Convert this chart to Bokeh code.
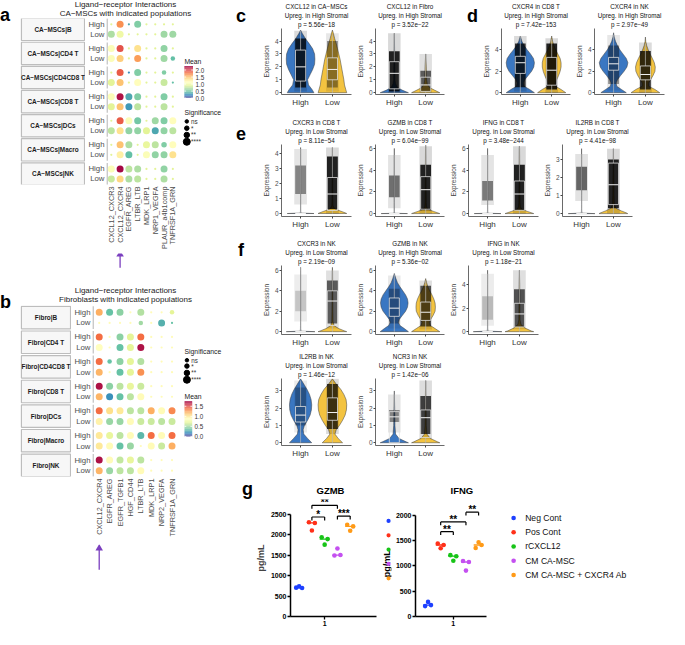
import math
from bokeh.plotting import figure
from bokeh.models import (ColumnDataSource, Range1d, FixedTicker, Div, Spacer, CustomJSTickFormatter, Title)
from bokeh.layouts import row, column
from bokeh.transform import linear_cmap
from bokeh.embed import file_html
from bokeh.resources import INLINE
from bokeh.core.properties import value

FONT = "Liberation Sans"
BLUE = "#3A77C2"
YELLOW = "#F3C340"

# ======================= DATA =======================
stromal = ["High", "Low"]
sig_labels = ["ns", "*", "**", "****"]

# ---- panel a: CA-MSCs ligand-receptor (rows: group x High/Low) ----
a_pairs = ["CXCL12_CXCR3", "CXCL12_CXCR4", "EGFR_AREG", "LTBR_LTB", "MDK_LRP1",
           "NRP1_VEGFA", "PLAUR_a4b1comp", "TNFRSF1A_GRN"]
a_groups = ["CA−MSCs|B", "CA−MSCs|CD4 T", "CA−MSCs|CD4CD8 T", "CA−MSCs|CD8 T",
            "CA−MSCs|DCs", "CA−MSCs|Macro", "CA−MSCs|NK"]
a_mean = [
    [0.9, 1.7, 0.35, 0.55, 0.9, 0.9, 0.9, 0.9],
    [0.7, 1.0, 0.9, 0.9, 0.9, 0.9, 0.65, 0.65],
    [1.1, 1.95, 0.9, 1.35, 0.9, 0.9, 0.6, 0.9],
    [1.1, 1.45, 0.9, 1.65, 0.9, 0.9, 0.65, 0.45],
    [0.9, 1.9, 0.25, 0.55, 0.9, 0.9, 0.55, 0.9],
    [0.9, 1.5, 0.9, 1.15, 0.9, 0.9, 0.8, 0.45],
    [1.1, 2.2, 0.35, 0.55, 0.9, 0.9, 0.55, 0.9],
    [0.9, 1.5, 0.3, 0.75, 0.9, 0.9, 0.75, 0.9],
    [0.9, 1.9, 1.1, 0.5, 0.9, 0.65, 0.55, 1.15],
    [0.75, 1.35, 0.6, 0.6, 0.9, 0.35, 0.6, 0.75],
    [0.9, 1.5, 0.7, 0.9, 0.95, 0.75, 0.55, 1.15],
    [0.9, 1.25, 0.45, 0.9, 1.1, 0.6, 0.6, 1.35],
    [1.1, 2.25, 0.75, 0.7, 0.9, 0.9, 0.6, 0.9],
    [0.8, 1.4, 0.7, 0.75, 0.9, 0.9, 0.7, 0.9],
]
a_sig = [
    [0, 3, 0, 3, 0, 0, 0, 0],
    [3, 3, 0, 0, 0, 0, 3, 3],
    [3, 3, 0, 3, 0, 0, 3, 0],
    [3, 3, 0, 3, 0, 0, 3, 1],
    [0, 3, 0, 3, 0, 0, 1, 0],
    [3, 3, 0, 3, 0, 0, 3, 0],
    [3, 3, 3, 3, 0, 0, 3, 0],
    [3, 3, 3, 3, 0, 0, 3, 0],
    [0, 3, 3, 3, 0, 3, 3, 3],
    [3, 3, 3, 3, 3, 3, 3, 3],
    [0, 3, 3, 0, 3, 3, 2, 3],
    [0, 3, 3, 0, 3, 3, 3, 3],
    [3, 3, 3, 3, 0, 0, 3, 0],
    [3, 3, 3, 3, 0, 0, 3, 0],
]

# ---- panel b: Fibroblasts ligand-receptor ----
b_pairs = ["CXCL12_CXCR4", "EGFR_AREG", "EGFR_TGFB1", "HGF_CD44", "LTBR_LTB",
           "MDK_LRP1", "NRP2_VEGFA", "TNFRSF1A_GRN"]
b_groups = ["Fibro|B", "Fibro|CD4 T", "Fibro|CD4CD8 T", "Fibro|CD8 T",
            "Fibro|DCs", "Fibro|Macro", "Fibro|NK"]
b_mean = [
    [1.22, 0.35, 0.45, 0.9, 0.55, 0.9, 0.9, 0.7],
    [0.9, 0.9, 0.9, 0.9, 0.5, 0.9, 0.3, 0.35],
    [1.4, 0.9, 0.45, 0.7, 1.4, 0.9, 0.9, 0.9],
    [0.88, 0.9, 0.35, 0.7, 1.7, 0.9, 0.9, 0.9],
    [1.4, 0.35, 0.45, 0.7, 0.55, 0.9, 0.9, 0.9],
    [1.2, 0.9, 0.35, 0.7, 1.3, 0.9, 0.9, 0.9],
    [1.7, 0.45, 0.58, 0.72, 0.62, 0.9, 0.9, 0.9],
    [1.2, 0.2, 0.35, 0.58, 0.9, 0.9, 0.9, 0.9],
    [1.4, 1.05, 1.0, 0.58, 0.58, 1.22, 0.9, 1.32],
    [0.95, 0.48, 0.48, 0.9, 0.62, 0.62, 0.58, 0.62],
    [1.0, 0.72, 0.58, 0.9, 0.32, 1.4, 0.9, 1.4],
    [1.0, 0.9, 0.35, 0.48, 0.9, 0.9, 0.62, 1.22],
    [1.7, 0.9, 0.6, 0.72, 0.58, 0.9, 0.9, 0.9],
    [1.2, 0.48, 0.58, 0.58, 0.9, 0.9, 0.9, 0.9],
]
b_sig = [
    [3, 3, 3, 0, 3, 0, 0, 1],
    [0, 0, 0, 0, 1, 0, 3, 0],
    [3, 0, 3, 3, 3, 0, 0, 0],
    [3, 0, 3, 3, 3, 0, 0, 0],
    [3, 1, 3, 3, 3, 0, 0, 0],
    [3, 0, 3, 3, 3, 0, 0, 0],
    [3, 3, 3, 3, 3, 0, 0, 0],
    [3, 3, 3, 3, 3, 0, 0, 0],
    [3, 3, 3, 3, 3, 3, 3, 3],
    [3, 3, 3, 3, 3, 3, 3, 3],
    [3, 3, 3, 3, 3, 3, 3, 3],
    [3, 3, 3, 3, 0, 3, 3, 3],
    [3, 3, 3, 3, 3, 0, 0, 0],
    [3, 3, 3, 3, 3, 0, 0, 0],
]

# ---- violins: levels, half-widths, box [q1, med, q3, max], cloud [lo, core_lo, core_hi, hi, density] ----
c1_levels = [0, 0.25, 0.6, 1.0, 1.4, 1.8, 2.2, 2.6, 3.0, 3.4, 3.8, 4.2, 4.6, 4.85]
c1_high_w = [0.42, 0.36, 0.25, 0.22, 0.30, 0.38, 0.44, 0.45, 0.44, 0.38, 0.27, 0.15, 0.05, 0.0]
c1_low_w = [0.45, 0.42, 0.38, 0.36, 0.33, 0.30, 0.27, 0.24, 0.20, 0.16, 0.12, 0.07, 0.03, 0.0]
c1_high_box = [0.9, 2.0, 3.3, 4.8]
c1_low_box = [1.0, 1.8, 2.7, 4.5]
c1_high_cloud = [0.1, 0.4, 4.2, 4.8, 0.9]
c1_low_cloud = [0.1, 0.4, 4.0, 4.6, 0.45]

c2_levels = [0, 0.2, 0.4, 0.7, 1.0, 2.0, 3.0, 4.0, 4.6]
c2_high_w = [0.45, 0.25, 0.10, 0.04, 0.02, 0.015, 0.01, 0.005, 0.0]
c2_low_w = [0.45, 0.28, 0.12, 0.05, 0.03, 0.02, 0.0, 0.0, 0.0]
c2_high_box = [0.3, 1.5, 2.4, 4.6]
c2_low_box = [0.1, 0.6, 1.2, 3.0]
c2_high_cloud = [0.0, 0.1, 3.2, 4.6, 1.0]
c2_low_cloud = [0.0, 0.1, 1.7, 3.0, 0.7]

d1_levels = [0, 0.3, 0.6, 0.9, 1.2, 1.6, 2.0, 2.4, 2.8, 3.2, 3.6, 4.0, 4.4, 4.8, 5.3]
d1_high_w = [0.45, 0.30, 0.12, 0.10, 0.14, 0.25, 0.36, 0.43, 0.45, 0.42, 0.33, 0.22, 0.12, 0.05, 0.0]
d1_low_w = [0.45, 0.30, 0.12, 0.12, 0.16, 0.22, 0.27, 0.30, 0.30, 0.27, 0.20, 0.13, 0.07, 0.03, 0.0]
d1_high_box = [1.8, 2.8, 3.4, 5.3]
d1_low_box = [0.7, 2.1, 3.3, 5.0]
d1_high_cloud = [0.1, 0.5, 4.6, 5.3, 0.9]
d1_low_cloud = [0.0, 0.3, 4.6, 5.1, 1.0]

d2_levels = [0, 0.3, 0.6, 0.9, 1.2, 1.6, 2.0, 2.4, 2.8, 3.2, 3.6, 4.0, 4.4, 4.8, 5.2, 5.6]
d2_high_w = [0.40, 0.25, 0.10, 0.08, 0.12, 0.22, 0.33, 0.42, 0.45, 0.40, 0.30, 0.20, 0.12, 0.06, 0.02, 0.0]
d2_low_w = [0.45, 0.30, 0.10, 0.10, 0.16, 0.24, 0.30, 0.31, 0.28, 0.22, 0.15, 0.09, 0.04, 0.01, 0.0, 0.0]
d2_high_box = [2.1, 2.7, 3.3, 5.4]
d2_low_box = [1.2, 1.7, 2.5, 4.6]
d2_high_cloud = [0.2, 0.8, 4.4, 5.4, 0.45]
d2_low_cloud = [0.0, 0.3, 3.9, 4.7, 0.9]

e1_levels = [0, 0.03, 0.15, 0.3, 0.5, 1.0, 2.0, 3.0, 4.0, 4.4]
e1_high_w = [0.42, 0.01, 0.004, 0.003, 0.003, 0.002, 0.002, 0.001, 0.001, 0.0]
e1_low_w = [0.45, 0.42, 0.27, 0.08, 0.02, 0.01, 0.01, 0.005, 0.003, 0.0]
e1_high_box = [0, 0, 0, 4.3]
e1_low_box = [0.2, 1.3, 2.4, 4.4]
e1_high_cloud = [0.6, 1.3, 3.2, 4.3, 0.5]
e1_low_cloud = [0.0, 0.3, 3.8, 4.4, 1.0]

e2_levels = [0, 0.03, 0.2, 0.4, 0.6, 1.0, 2.0, 4.0, 6.0, 6.3]
e2_high_w = [0.42, 0.01, 0.004, 0.003, 0.003, 0.002, 0.002, 0.001, 0.0, 0.0]
e2_low_w = [0.45, 0.42, 0.25, 0.08, 0.03, 0.02, 0.015, 0.01, 0.005, 0.0]
e2_high_box = [0, 0, 0, 5.4]
e2_low_box = [0.4, 2.2, 3.4, 6.3]
e2_high_cloud = [0.5, 1.5, 3.5, 5.4, 0.6]
e2_low_cloud = [0.0, 0.3, 4.5, 6.2, 1.0]

e3_levels = [0, 0.03, 0.2, 0.4, 0.6, 1.0, 2.0, 4.0, 6.0, 6.2]
e3_high_w = [0.42, 0.01, 0.004, 0.003, 0.003, 0.002, 0.002, 0.001, 0.0, 0.0]
e3_low_w = [0.45, 0.42, 0.25, 0.08, 0.03, 0.02, 0.015, 0.01, 0.005, 0.0]
e3_high_box = [0, 0, 0, 5.4]
e3_low_box = [0.3, 1.8, 3.0, 6.2]
e3_high_cloud = [0.8, 1.2, 3.0, 5.4, 0.55]
e3_low_cloud = [0.0, 0.3, 4.5, 6.2, 1.0]

e4_levels = [0, 0.03, 0.15, 0.3, 0.5, 1.0, 2.0, 3.0, 3.6]
e4_high_w = [0.42, 0.01, 0.004, 0.003, 0.003, 0.002, 0.002, 0.001, 0.0]
e4_low_w = [0.45, 0.42, 0.25, 0.08, 0.03, 0.02, 0.015, 0.005, 0.0]
e4_high_box = [0, 0, 0, 3.3]
e4_low_box = [0.5, 1.6, 2.8, 3.6]
e4_high_cloud = [0.7, 1.3, 2.6, 3.3, 0.65]
e4_low_cloud = [0.0, 0.3, 3.0, 3.6, 1.0]

f1_levels = [0, 0.05, 0.3, 0.6, 1.0, 2.0, 4.0, 6.0, 6.3]
f1_high_w = [0.45, 0.01, 0.004, 0.003, 0.002, 0.002, 0.001, 0.001, 0.0]
f1_low_w = [0.45, 0.40, 0.20, 0.05, 0.02, 0.015, 0.01, 0.005, 0.0]
f1_high_box = [0, 0, 0, 6.3]
f1_low_box = [0.6, 3.0, 4.0, 6.0]
f1_high_cloud = [1.0, 2.0, 4.0, 5.6, 0.2]
f1_low_cloud = [0.3, 0.8, 5.0, 6.0, 0.7]

f2_levels = [0, 0.3, 0.6, 0.9, 1.2, 1.6, 2.0, 2.4, 2.8, 3.2, 3.6, 4.0, 4.4, 4.8, 5.2, 5.7]
f2_high_w = [0.45, 0.32, 0.18, 0.13, 0.16, 0.26, 0.36, 0.42, 0.44, 0.42, 0.36, 0.27, 0.18, 0.10, 0.05, 0.0]
f2_low_w = [0.45, 0.30, 0.15, 0.12, 0.16, 0.24, 0.30, 0.31, 0.30, 0.26, 0.20, 0.13, 0.07, 0.03, 0.0, 0.0]
f2_high_box = [1.5, 2.3, 3.3, 5.6]
f2_low_box = [1.1, 1.9, 2.9, 5.0]
f2_high_cloud = [0.3, 0.8, 4.2, 5.5, 0.35]
f2_low_cloud = [0.2, 0.5, 4.5, 5.0, 0.75]

f3_levels = [0, 0.05, 0.3, 0.6, 1.0, 2.0, 4.0, 5.2]
f3_high_w = [0.45, 0.01, 0.004, 0.003, 0.002, 0.002, 0.001, 0.0]
f3_low_w = [0.45, 0.38, 0.18, 0.05, 0.02, 0.015, 0.01, 0.0]
f3_high_box = [0, 0, 0, 4.9]
f3_low_box = [0.4, 1.5, 2.4, 5.2]
f3_high_cloud = [0.5, 1.0, 3.0, 4.9, 0.25]
f3_low_cloud = [0.2, 0.4, 3.6, 5.2, 0.75]

f4_levels = [0, 0.25, 0.5, 0.75, 1.0, 1.3, 1.6, 1.9, 2.2, 2.5, 2.8, 3.1, 3.4, 3.7]
f4_high_w = [0.35, 0.22, 0.10, 0.08, 0.12, 0.22, 0.30, 0.34, 0.35, 0.33, 0.28, 0.20, 0.10, 0.0]
f4_low_w = [0.32, 0.18, 0.08, 0.12, 0.22, 0.32, 0.40, 0.44, 0.45, 0.43, 0.36, 0.26, 0.12, 0.0]
f4_high_box = [1.2, 1.6, 2.1, 3.6]
f4_low_box = [1.3, 1.75, 2.6, 3.6]
f4_high_cloud = [0.6, 1.0, 3.2, 3.6, 0.3]
f4_low_cloud = [0.5, 0.8, 3.4, 3.7, 0.85]

f5_levels = [0, 0.05, 0.25, 0.5, 1.0, 2.0, 3.0, 3.6]
f5_high_w = [0.45, 0.38, 0.15, 0.04, 0.02, 0.012, 0.0, 0.0]
f5_low_w = [0.45, 0.38, 0.15, 0.04, 0.02, 0.015, 0.006, 0.0]
f5_high_box = [0.0, 1.5, 1.8, 2.8]
f5_low_box = [0.3, 1.45, 1.9, 3.6]
f5_high_cloud = [0.6, 1.2, 1.9, 2.8, 0.5]
f5_low_cloud = [0.2, 0.5, 2.7, 3.6, 0.85]

violin_titles = {
    "c1": ["CXCL12 in CA−MSCs", "Upreg. in High Stromal", "p = 5.56e−18"],
    "c2": ["CXCL12 in Fibro", "Upreg. in High Stromal", "p = 3.52e−22"],
    "d1": ["CXCR4 in CD8 T", "Upreg. in High Stromal", "p = 7.42e−153"],
    "d2": ["CXCR4 in NK", "Upreg. in High Stromal", "p = 2.97e−49"],
    "e1": ["CXCR3 in CD8 T", "Upreg. in Low Stromal", "p = 8.11e−54"],
    "e2": ["GZMB in CD8 T", "Upreg. in Low Stromal", "p = 6.04e−99"],
    "e3": ["IFNG in CD8 T", "Upreg. in Low Stromal", "p = 3.48e−244"],
    "e4": ["IL2RB in CD8 T", "Upreg. in Low Stromal", "p = 4.41e−98"],
    "f1": ["CXCR3 in NK", "Upreg. in Low Stromal", "p = 2.19e−09"],
    "f2": ["GZMB in NK", "Upreg. in High Stromal", "p = 5.36e−02"],
    "f3": ["IFNG in NK", "Upreg. in Low Stromal", "p = 1.18e−21"],
    "f4": ["IL2RB in NK", "Upreg. in Low Stromal", "p = 1.46e−12"],
    "f5": ["NCR3 in NK", "Upreg. in Low Stromal", "p = 1.42e−06"],
}

# ---- panel g: ELISA ----
g_groups = ["Neg Cont", "Pos Cont", "rCXCL12", "CM CA-MSC", "CM CA-MSC + CXCR4 Ab"]
gzmb_vals = [[705, 695, 735], [2300, 2285, 2100], [1935, 1890, 1755], [1490, 1500, 1660], [2240, 2200, 2095]]
ifng_vals = [[205, 225, 288], [1440, 1410, 1345], [1210, 1190, 1100], [1095, 1075, 905], [1350, 1410, 1465]]
gzmb_brackets = [(1, 3, 2714, "**"), (1, 2, 2430, "*"), (3, 4, 2452, "***")]
ifng_brackets = [(1, 2, 1673, "**"), (1, 3, 1865, "**"), (3, 4, 2058, "**")]

# ======================= STYLE / LAYOUT =======================
g_colors = ["#1E40FF", "#FF3019", "#17C417", "#C450F0", "#FF9A17"]
SPECTRAL = ["#5e4fa2", "#3288bd", "#66c2a5", "#abdda4", "#e6f598", "#ffffbf",
            "#fee08b", "#fdae61", "#f46d43", "#d53e4f", "#9e0142"]


def interp_palette(cols, n=256):
    rgb = [tuple(int(c[i:i + 2], 16) for i in (1, 3, 5)) for c in cols]
    out = []
    for k in range(n):
        t = k / (n - 1) * (len(rgb) - 1)
        i = min(int(t), len(rgb) - 2)
        f = t - i
        out.append("#%02x%02x%02x" % tuple(int(round(rgb[i][j] * (1 - f) + rgb[i + 1][j] * f)) for j in range(3)))
    return out


PAL = interp_palette(SPECTRAL)
SIZES = [2.2, 4.5, 5.5, 7.0]
LEG_SIZES = [3.5, 4.5, 5.5, 7.0]

SXF = 669 / 685.0
SYF = 629 / 645.0


def sx(v):
    return int(round(v * SXF))


def sy(v):
    return int(round(v * SYF))


def wd(a, b):
    return sx(b) - sx(a)


def ht(a, b):
    return sy(b) - sy(a)


def base_fig(x1, x2, y1, y2, fl, fr, ft, fb, xr, yr, axes=True):
    kw = {} if axes else dict(x_axis_type=None, y_axis_type=None)
    p = figure(width=wd(x1, x2), height=ht(y1, y2), x_range=xr, y_range=yr,
               output_backend="svg", toolbar_location=None, title=None,
               min_border_left=wd(x1, fl), min_border_right=wd(fr, x2),
               min_border_top=ht(y1, ft), min_border_bottom=ht(fb, y2), **kw)
    p.outline_line_color = None
    p.xgrid.visible = False
    p.ygrid.visible = False
    return p


def letter(ch, x1, x2, y1, y2, top, left):
    html = ('<div style="font-family:\'%s\';font-weight:bold;font-size:18px;line-height:18px;'
            'padding-top:%dpx;padding-left:%dpx;color:#000">%s</div>' % (FONT, top, left, ch))
    return Div(text=html, width=wd(x1, x2), height=ht(y1, y2), margin=0)


def gap(x1, x2, y1, y2):
    return Spacer(width=wd(x1, x2), height=ht(y1, y2), margin=0)


def style_axis(a, line="#444444", lw=0.8):
    a.axis_line_color = line
    a.axis_line_width = lw
    a.major_tick_line_color = line
    a.major_tick_out = 2
    a.major_tick_in = 0
    a.minor_tick_line_color = None
    a.minor_tick_out = 0
    a.major_label_text_font = FONT
    a.major_label_standoff = 1
    a.axis_label_text_font = FONT
    a.axis_label_text_font_style = "normal"
    a.axis_label_standoff = 2


# ---------------- dot panels (a, b) ----------------
def dot_block(G, pairs, groups, mean, sig, cmax, cb_ticks, title_lines, lt):
    top, bot = G["top"], G["bottom"]
    fy0, fy1 = G["frame_y"]
    fx0, fx1 = G["frame_x"]
    c0, cs = G["col0"], G["cstep"]

    def u(xpx):  # reference x pixel -> column units
        return 1 + (xpx - c0) / cs

    yr = Range1d(fy1, fy0)
    xr = Range1d(u(fx0), u(fx1))
    r0, fs, hs = G["row0"], G["fstep"], G["hstep"]
    s0, s1 = G["strip_x"]
    d0, d1 = G["dot_x"]

    # title (centred over the dot panel)
    tw = wd(s0, d1)
    cen = sx(G["title_cx"]) - sx(s0)
    pad = max(0, 2 * cen - tw)
    html = ('<div style="font-family:\'%s\';font-size:8px;line-height:9px;color:#1A1A1A;text-align:center;'
            'padding-left:%dpx;width:%dpx;padding-top:%dpx;white-space:nowrap">%s<br>%s</div>'
            % (FONT, pad, tw - pad, G["title_pad"], title_lines[0], title_lines[1]))
    tdiv = Div(text=html, width=tw, height=ht(top, fy0), margin=0)

    # strips
    sp = base_fig(s0, s1, fy0, bot, s0, s1, fy0, fy1, Range1d(s0, s1), yr, axes=False)
    b0, b1 = G["box_x"]
    ys = [r0 + f * fs + hs / 2 for f in range(len(groups))]
    sp.rect(x=[(b0 + b1) / 2] * len(groups), y=ys, width=b1 - b0, height=G["box_h"],
            fill_color="#F7F7F7", line_color="#BDBDBD", line_width=1.2)
    sp.text(x=[(b0 + b1) / 2] * len(groups), y=ys, text=groups, text_font=value(FONT),
            text_font_size="6.4px", text_font_style="bold", text_align="center",
            text_baseline="middle", text_color="#1A1A1A")

    # dots (+ legend inside the same frame, to the right of the columns)
    dp = base_fig(d0, d1, fy0, G["dot_bottom"], fx0, fx1, fy0, fy1, xr, yr)
    xs, yv, mv, sz = [], [], [], []
    for r in range(len(mean)):
        f, j = divmod(r, 2)
        for k in range(len(pairs)):
            xs.append(k + 1)
            yv.append(r0 + f * fs + j * hs)
            mv.append(mean[r][k])
            sz.append(SIZES[sig[r][k]])
    src = ColumnDataSource(dict(x=xs, y=yv, mean=mv, size=sz))
    xl = u(G["axis_x"])
    dp.segment(x0=[xl] * len(groups), x1=[xl] * len(groups),
               y0=[r0 + f * fs - 6.2 for f in range(len(groups))],
               y1=[r0 + f * fs + hs + 6.2 for f in range(len(groups))],
               line_color="#BFBFBF", line_width=1.5)
    dp.scatter("x", "y", size="size", source=src, line_color=None,
               fill_color=linear_cmap("mean", PAL, 0, cmax))
    yt = []
    for f in range(len(groups)):
        yt += [r0 + f * fs, r0 + f * fs + hs]
    dp.yaxis.ticker = FixedTicker(ticks=yt)
    dp.yaxis.formatter = CustomJSTickFormatter(code="return (index % 2 == 0) ? 'High' : 'Low';")
    dp.xaxis.ticker = FixedTicker(ticks=list(range(1, len(pairs) + 1)))
    dp.xaxis.major_label_overrides = {k + 1: n for k, n in enumerate(pairs)}
    dp.xaxis.major_label_orientation = math.pi / 2
    for ax in (dp.xaxis, dp.yaxis):
        ax.axis_line_color = None
        ax.major_tick_line_color = None
        ax.major_tick_out = 0
        ax.major_tick_in = 0
        ax.minor_tick_line_color = None
        ax.minor_tick_out = 0
        ax.major_label_text_font = FONT
        ax.major_label_text_color = "#4D4D4D"
        ax.major_label_standoff = 2
    dp.yaxis.major_label_text_font_size = "7.8px"
    dp.xaxis.major_label_text_font_size = "7.3px"

    # legend: colour bar from the palette + significance sizes
    cbx, cbb, cbw, cbh = G["cb"]
    nseg = 48
    vals = [cmax * i / nseg for i in range(nseg + 1)]
    dp.quad(left=[u(cbx)] * nseg, right=[u(cbx + cbw)] * nseg,
            bottom=[cbb - v / cmax * cbh for v in vals[:-1]], top=[cbb - v / cmax * cbh for v in vals[1:]],
            fill_color=[PAL[int(round((i + 0.5) / nseg * 255))] for i in range(nseg)], line_color=None)
    tys = [cbb - v / cmax * cbh for v in cb_ticks]
    dp.segment(x0=[u(cbx)] * len(tys), x1=[u(cbx + 1.8)] * len(tys), y0=tys, y1=tys,
               line_color="white", line_width=0.8)
    dp.segment(x0=[u(cbx + cbw - 1.8)] * len(tys), x1=[u(cbx + cbw)] * len(tys), y0=tys, y1=tys,
               line_color="white", line_width=0.8)
    dp.text(x=[u(cbx + cbw + 2.5)] * len(tys), y=tys, text=["%.1f" % v for v in cb_ticks],
            text_font=value(FONT), text_font_size="6.3px", text_baseline="middle", text_color="#333333")
    dp.text(x=[u(cbx)], y=[cbb - cbh - 5], text=["Mean"], text_font=value(FONT),
            text_font_size="6.8px", text_baseline="middle", text_color="#1A1A1A")
    dp.text(x=[u(188)], y=[G["sig_title"]], text=["Significance"], text_font=value(FONT),
            text_font_size="6.8px", text_baseline="middle", text_color="#1A1A1A")
    dp.scatter(x=[u(190.5)] * 4, y=G["sig_rows"], size=LEG_SIZES, color="black")
    dp.text(x=[u(195)] * 4, y=G["sig_rows"], text=sig_labels, text_font=value(FONT),
            text_font_size="6.3px", text_baseline="middle", text_color="#333333")

    # arrow under CXCL12_CXCR4
    tip, tail = G["arrow"]
    ab = G["dot_bottom"]
    ap = base_fig(d0, d1, ab, bot, fx0, fx1, ab + 1, bot - 1, xr, Range1d(bot - 1, ab + 1), axes=False)
    ai = pairs.index("CXCL12_CXCR4") + 1
    ap.segment(x0=[ai], x1=[ai], y0=[tip + 4], y1=[tail], line_color="#7B3FBF", line_width=1.3)
    ap.scatter(x=[ai], y=[tip + 3], marker="triangle", size=7.5, fill_color="#7B3FBF", line_color=None)

    lab = letter(lt, 0, s0, top, bot, G["letter_top"], 0)
    body = row(sp, column(dp, ap))
    return row(lab, column(tdiv, body))


G_a = dict(top=0, bottom=282, strip_x=(19, 87), box_x=(21, 86), dot_x=(87, 238), frame_x=(107, 237),
           axis_x=107.6, frame_y=(18, 189), dot_bottom=258, row0=24, fstep=24.83, hstep=10.3,
           col0=112, cstep=9.14, box_h=23, letter_top=6, arrow=(257, 274), title_cx=145, title_pad=0,
           sig_title=115, sig_rows=[124, 131, 138, 145], cb=(188, 100, 9, 33))
G_b = dict(top=282, bottom=600, strip_x=(19, 73), box_x=(21, 72), dot_x=(73, 238), frame_x=(92, 237),
           axis_x=92.6, frame_y=(313, 488), dot_bottom=557, row0=320, fstep=25.2, hstep=10.8,
           col0=99, cstep=10.85, box_h=23, letter_top=18, arrow=(559, 584), title_cx=137, title_pad=11,
           sig_title=360, sig_rows=[369, 375, 382, 389], cb=(188, 447, 8, 36))

block_a = dot_block(G_a, a_pairs, a_groups, a_mean, a_sig, 2.28, [0, 0.5, 1.0, 1.5, 2.0],
                    ["Ligand−receptor Interactions", "CA−MSCs with indicated populations"], "a")
block_b = dot_block(G_b, b_pairs, b_groups, b_mean, b_sig, 1.75, [0, 0.5, 1.0, 1.5],
                    ["Ligand−receptor Interactions", "Fibroblasts with indicated populations"], "b")
left_col = column(block_a, block_b)

# ---------------- violins ----------------
VIO = {}
for key, lv, hw, lw, hb, lb, hc, lc, yr, tk in [
    ("c1", c1_levels, c1_high_w, c1_low_w, c1_high_box, c1_low_box, c1_high_cloud, c1_low_cloud, (-0.14, 4.97), [0, 1, 2, 3, 4]),
    ("c2", c2_levels, c2_high_w, c2_low_w, c2_high_box, c2_low_box, c2_high_cloud, c2_low_cloud, (-0.14, 4.97), [0, 1, 2, 3, 4]),
    ("d1", d1_levels, d1_high_w, d1_low_w, d1_high_box, d1_low_box, d1_high_cloud, d1_low_cloud, (-0.17, 6.0), [0, 2, 4]),
    ("d2", d2_levels, d2_high_w, d2_low_w, d2_high_box, d2_low_box, d2_high_cloud, d2_low_cloud, (-0.17, 6.0), [0, 2, 4]),
    ("e1", e1_levels, e1_high_w, e1_low_w, e1_high_box, e1_low_box, e1_high_cloud, e1_low_cloud, (-0.2, 4.6), [0, 1, 2, 3, 4]),
    ("e2", e2_levels, e2_high_w, e2_low_w, e2_high_box, e2_low_box, e2_high_cloud, e2_low_cloud, (-0.27, 6.36), [0, 2, 4, 6]),
    ("e3", e3_levels, e3_high_w, e3_low_w, e3_high_box, e3_low_box, e3_high_cloud, e3_low_cloud, (-0.27, 6.36), [0, 2, 4, 6]),
    ("e4", e4_levels, e4_high_w, e4_low_w, e4_high_box, e4_low_box, e4_high_cloud, e4_low_cloud, (-0.16, 3.83), [0, 1, 2, 3]),
    ("f1", f1_levels, f1_high_w, f1_low_w, f1_high_box, f1_low_box, f1_high_cloud, f1_low_cloud, (-0.28, 6.48), [0, 2, 4, 6]),
    ("f2", f2_levels, f2_high_w, f2_low_w, f2_high_box, f2_low_box, f2_high_cloud, f2_low_cloud, (-0.28, 6.48), [0, 2, 4, 6]),
    ("f3", f3_levels, f3_high_w, f3_low_w, f3_high_box, f3_low_box, f3_high_cloud, f3_low_cloud, (-0.24, 5.6), [0, 2, 4]),
    ("f4", f4_levels, f4_high_w, f4_low_w, f4_high_box, f4_low_box, f4_high_cloud, f4_low_cloud, (-0.16, 3.72), [0, 1, 2, 3]),
    ("f5", f5_levels, f5_high_w, f5_low_w, f5_high_box, f5_low_box, f5_high_cloud, f5_low_cloud, (-0.16, 3.72), [0, 1, 2, 3]),
]:
    VIO[key] = dict(levels=lv, groups=[(hw, hb, hc, BLUE), (lw, lb, lc, YELLOW)], yr=yr, ticks=tk,
                    title=violin_titles[key])

CW = 0.2
BW = 0.16


def vpoly(center, levels, w):
    L, Wd = [], []
    for l, v in zip(levels, w):
        L.append(l)
        Wd.append(v)
        if v <= 0:
            break
    return ([center + v for v in Wd] + [center - v for v in reversed(Wd)], L + list(reversed(L)))


def violin(key, x1, y1, y2, ft, fb):
    s = VIO[key]
    ax = x1 + 20
    p = base_fig(x1, x1 + 96, y1, y2, ax, ax + 74, ft, fb, Range1d(0.4, 2.6), Range1d(*s["yr"]))
    for i, line in enumerate(reversed(s["title"])):
        p.add_layout(Title(text=line, align="center", text_font=FONT, text_font_size="6.3px",
                           text_font_style="normal", text_color="#111111", standoff=(1 if i == 0 else 0),
                           text_line_height=1.0), "above")
    for gi, (w, box, cloud, col) in enumerate(s["groups"]):
        c = gi + 1
        xs, ys = vpoly(c, s["levels"], w)
        p.patch(xs, ys, fill_color=col, line_color="#3C3C3C", line_width=0.5)
        lo, clo, chi, hi, dens = cloud
        p.quad(left=[c - CW], right=[c + CW], bottom=[lo], top=[hi], fill_color="black",
               fill_alpha=0.05 + 0.1 * dens, line_color=None)
        p.quad(left=[c - CW * 0.85], right=[c + CW * 0.85], bottom=[clo], top=[chi], fill_color="black",
               fill_alpha=0.85 * dens, line_color=None)
        q1, med, q3, mx = box
        p.segment(x0=[c, c], y0=[0, q3], x1=[c, c], y1=[q1, mx], line_color="#B8B8B8", line_width=0.7)
        p.quad(left=[c - BW], right=[c + BW], bottom=[q1], top=[q3], fill_color=None,
               line_color="#E0E0E0", line_width=0.8)
        p.segment(x0=[c - BW], y0=[med], x1=[c + BW], y1=[med], line_color="#F2F2F2", line_width=1.0)
    p.xaxis.ticker = FixedTicker(ticks=[1, 2])
    p.xaxis.major_label_overrides = {1: stromal[0], 2: stromal[1]}
    p.yaxis.ticker = FixedTicker(ticks=s["ticks"])
    p.yaxis.axis_label = "Expression"
    for a in (p.xaxis, p.yaxis):
        style_axis(a)
        a.axis_label_text_font_size = "6.5px"
    p.yaxis.major_label_text_font_size = "6.5px"
    p.yaxis.major_label_text_color = "#4D4D4D"
    p.xaxis.major_label_text_font_size = "8px"
    p.xaxis.major_label_text_color = "#333333"
    return p


R1 = row(letter("c", 238, 265, 0, 112, 7, 4),
         violin("c1", 265, 0, 112, 23, 97), violin("c2", 361, 0, 112, 23, 97),
         letter("d", 457, 490, 0, 112, 7, 21),
         violin("d1", 490, 0, 112, 23, 97), violin("d2", 586, 0, 112, 23, 97),
         gap(682, 685, 0, 112))
R2 = row(letter("e", 238, 265, 112, 240, 16, 4),
         violin("e1", 265, 112, 240, 148, 221), violin("e2", 361, 112, 240, 148, 221),
         violin("e3", 457, 112, 240, 148, 221), violin("e4", 553, 112, 240, 148, 221))
R3 = row(letter("f", 238, 265, 240, 358, 7, 6),
         violin("f1", 265, 240, 358, 272, 345), violin("f2", 361, 240, 358, 272, 345),
         violin("f3", 457, 240, 358, 272, 345))
R4 = row(gap(238, 265, 358, 472),
         violin("f4", 265, 358, 472, 388, 459), violin("f5", 361, 358, 472, 388, 459))

# ---------------- panel g ----------------
GOFF = [-0.284, -0.142, 0.0, 0.142, 0.284]
JIT = [-0.033, 0.033, 0.0]


def g_fig(name, vals, brackets, x1, x2, fl, fr, xr, ymax, ytop, yticks, xbounds, toff, ylabel=True):
    p = base_fig(x1, x2, 486, 645, fl, fr, 512, 632, Range1d(*xr), Range1d(0, ymax))
    p.add_layout(Title(text=name, align="left", offset=toff, text_font=FONT, text_font_size="9.5px",
                       text_font_style="bold", text_color="#000000", standoff=8), "above")
    pxu = ymax / (632 - 512)
    for gi, v in enumerate(vals):
        xc = 1 + GOFF[gi]
        p.scatter(x=[xc + j for j in JIT], y=v, size=4.6, fill_color=g_colors[gi], line_color=None)
        md = sorted(v)[1]
        p.segment(x0=[xc - 0.055], x1=[xc + 0.055], y0=[md], y1=[md], line_color=g_colors[gi], line_width=1.3)
    for (i1, i2, yb, lab) in brackets:
        xa, xb = 1 + GOFF[i1], 1 + GOFF[i2]
        p.segment(x0=[xa, xa, xb], x1=[xb, xa, xb], y0=[yb, yb, yb], y1=[yb, yb - 3.5 * pxu, yb - 3.5 * pxu],
                  line_color="black", line_width=1.2)
        p.text(x=[(xa + xb) / 2], y=[yb + 2.5 * pxu], text=[lab], text_font=value(FONT),
               text_font_size="10px", text_font_style="bold", text_align="center", text_baseline="middle")
    p.yaxis.ticker = FixedTicker(ticks=yticks)
    p.yaxis.bounds = (0, ytop)
    if ylabel:
        p.yaxis.axis_label = "pg/mL"
    p.xaxis.ticker = FixedTicker(ticks=[1])
    p.xaxis.bounds = xbounds
    for a in (p.xaxis, p.yaxis):
        style_axis(a, line="black", lw=1.5)
        a.major_tick_line_width = 1.3
        a.major_tick_out = 3
        a.major_label_text_font_style = "bold"
        a.major_label_text_font_size = "7px"
        a.major_label_text_color = "black"
        a.major_label_standoff = 1
        a.axis_label_text_font_style = "bold"
        a.axis_label_text_font_size = "9px"
    return p, pxu


GZ_X0, GZ_X1 = 0.62, 1.58
gz_ppu = (385 - 297) / (GZ_X1 - GZ_X0)
gz_xend = GZ_X1 + (400 - 385) / gz_ppu
gz, gpxu = g_fig("GZMB", gzmb_vals, gzmb_brackets, 258, 401, 297, 400, (GZ_X0, gz_xend), 2857, 2500,
                 [0, 500, 1000, 1500, 2000, 2500], (GZ_X0, GZ_X1), 26)


def gzx(xpx):
    return GZ_X0 + (xpx - 297) / gz_ppu


def gzy(ypx):
    return (632 - ypx) * gpxu


# y-axis title of the IFNG graph and the small coloured key dots that sit on it
gz.text(x=[gzx(395)], y=[gzy(578)], text=["pg/mL"], angle=math.pi / 2, text_font=value(FONT),
        text_font_size="9px", text_font_style="bold", text_align="center", text_baseline="middle")
gz.scatter(x=[gzx(397)] * len(g_groups), y=[gzy(534 + 14.7 * i) for i in range(len(g_groups))],
           size=4.2, fill_color=g_colors, line_color=None)

IF_X0, IF_X1 = 0.575, 1.375
if_ppu = (495 - 421) / (IF_X1 - IF_X0)
if_xend = IF_X1 + (684 - 495) / if_ppu
ifn, ipxu = g_fig("IFNG", ifng_vals, ifng_brackets, 401, 685, 421, 684, (IF_X0, if_xend), 2308, 2000,
                  [0, 500, 1000, 1500, 2000], (IF_X0, IF_X1), 35, ylabel=False)


def gx(xpx):
    return IF_X0 + (xpx - 421) / if_ppu


def gyv(ypx):
    return (632 - ypx) * ipxu


ly = [gyv(531 + 14.6 * i) for i in range(len(g_groups))]
ifn.scatter(x=[gx(523)] * len(g_groups), y=ly, size=4.6, fill_color=g_colors, line_color=None)
ifn.text(x=[gx(535)] * len(g_groups), y=ly, text=g_groups, text_font=value(FONT), text_font_size="8.6px",
         text_baseline="middle", text_color="#111111")

R6 = row(letter("g", 238, 258, 486, 645, 6, 10), gz, ifn)

right_col = column(R1, R2, R3, R4, gap(238, 685, 472, 486), R6)
layout = row(left_col, right_col)

open("out.html", "w").write(file_html(layout, INLINE))
